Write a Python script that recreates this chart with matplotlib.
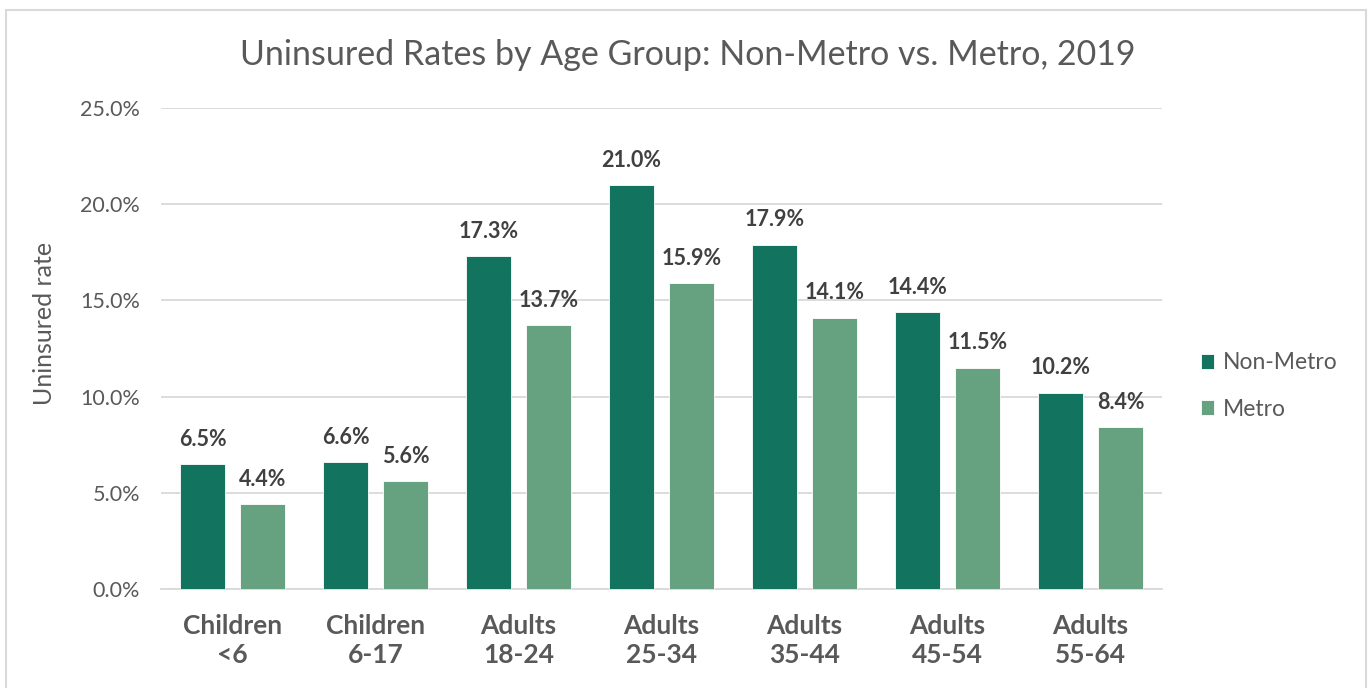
import matplotlib
matplotlib.use("Agg")
import matplotlib.pyplot as plt
from matplotlib.patches import Rectangle
import numpy as np

categories = ["Children\n<6", "Children\n6-17", "Adults\n18-24", "Adults\n25-34",
              "Adults\n35-44", "Adults\n45-54", "Adults\n55-64"]
non_metro = [6.5, 6.6, 17.3, 21.0, 17.9, 14.4, 10.2]
metro = [4.4, 5.6, 13.7, 15.9, 14.1, 11.5, 8.4]
yticks = [0, 5, 10, 15, 20, 25]

plt.rcParams['font.family'] = ['Lato', 'DejaVu Sans']

fig = plt.figure(figsize=(13.7, 6.88), dpi=100)
fig.patch.set_facecolor("white")
fig.patches.append(Rectangle((6/1370, -0.01), 1360/1370, 1 - 10/688 + 0.01,
                             transform=fig.transFigure, fill=False,
                             edgecolor="#D9D9D9", linewidth=1.5))

ax = fig.add_axes([161/1370, 1 - 589/688, 1001/1370, (589 - 108)/688])
x = np.arange(len(categories))
dark = "#12735F"
light = "#66A180"
w = 0.32
b1 = ax.bar(x - 0.21, non_metro, w, color=dark, edgecolor="white", linewidth=0.6,
            label="Non-Metro", zorder=3)
b2 = ax.bar(x + 0.21, metro, w, color=light, edgecolor="white", linewidth=0.6,
            label="Metro", zorder=3)
for bars, vals in ((b1, non_metro), (b2, metro)):
    for r, v in zip(bars, vals):
        ax.text(r.get_x() + r.get_width() / 2, v + 0.75, f"{v:.1f}%", ha="center",
                va="bottom", fontsize=15.5, fontweight="bold", color="#404040")

ax.set_xlim(-0.5, len(categories) - 0.5)
ax.set_ylim(0, 25)
ax.set_yticks(yticks)
ax.set_yticklabels([f"{t:.1f}%" for t in yticks], fontsize=15.5, color="#595959")
ax.set_xticks(x)
ax.set_xticklabels(categories, fontsize=19, fontweight="bold", color="#595959",
                   linespacing=1.25)
ax.tick_params(axis="both", length=0)
ax.tick_params(axis="y", pad=15)
ax.tick_params(axis="x", pad=18)
ax.grid(axis="y", color="#D9D9D9", linewidth=1.3, zorder=0)
for s in ["top", "right", "left"]:
    ax.spines[s].set_visible(False)
ax.spines["bottom"].set_color("#D9D9D9")
ax.spines["bottom"].set_linewidth(1.3)

fig.text(45/1370, 1 - 323/688, "Uninsured rate", rotation=90, ha="center", va="center",
         fontsize=18, color="#595959")
fig.text(688/1370, 1 - 55/688, "Uninsured Rates by Age Group: Non-Metro vs. Metro, 2019",
         ha="center", va="center", fontsize=24.5, color="#595959")

leg = fig.legend(handles=[b1, b2], loc="center left",
                 bbox_to_anchor=(1180/1370, 1 - 386/688), frameon=False,
                 fontsize=16.5, labelspacing=1.1, handlelength=0.6, handleheight=0.6,
                 handletextpad=0.35)
for t in leg.get_texts():
    t.set_color("#595959")

fig.savefig("out.png", dpi=100, facecolor="white")
